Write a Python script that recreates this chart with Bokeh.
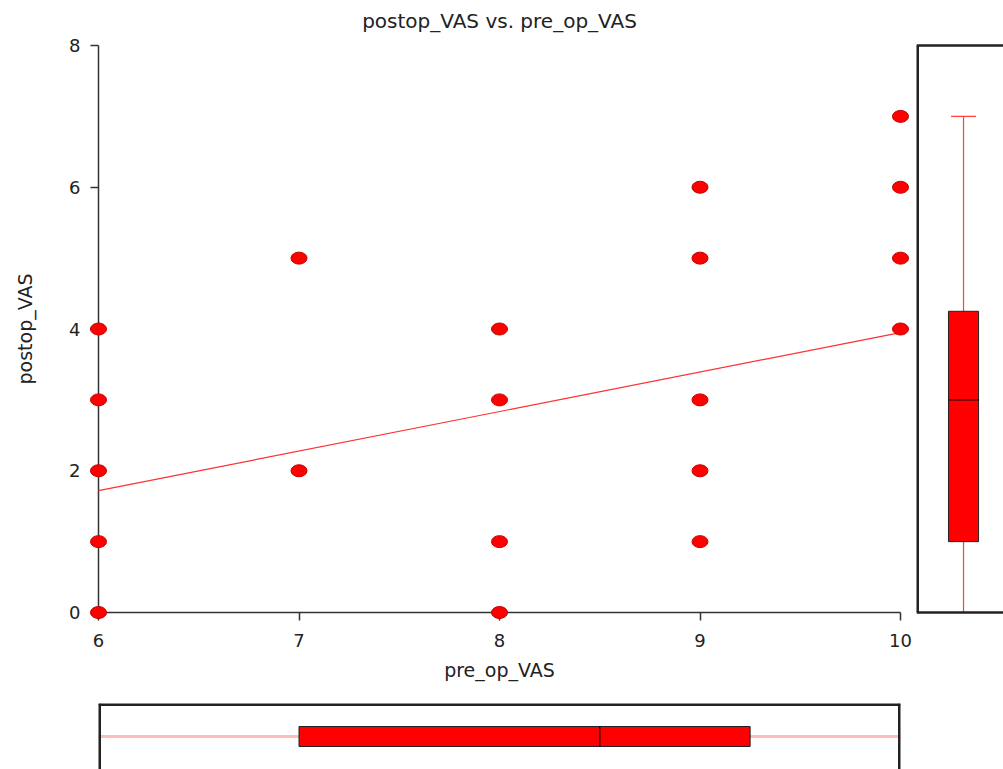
from bokeh.plotting import figure
from bokeh.models import Range1d, FixedTicker, Span, ColumnDataSource
from bokeh.layouts import column, row
from bokeh.embed import file_html
from bokeh.resources import INLINE

# ---------------- data ----------------
pre_op_VAS = [6, 6, 6, 6, 6, 7, 7, 8, 8, 8, 8, 9, 9, 9, 9, 9, 10, 10, 10, 10]
postop_VAS = [0, 1, 2, 3, 4, 2, 5, 0, 1, 3, 4, 1, 2, 3, 5, 6, 4, 5, 6, 7]
x_ticks = [6, 7, 8, 9, 10]
y_ticks = [0, 2, 4, 6, 8]
fit_x = [6, 10]
fit_y = [1.72, 3.95]
post_low, post_q1, post_med, post_q3, post_high = 0, 1, 3, 4.25, 7
pre_low, pre_q1, pre_med, pre_q3, pre_high = 6, 7, 8.5, 9.25, 10

FONT = "DejaVu Sans"
TXT = "#222222"
RED = "#ff0000"
EDGE = "#222222"

# ---------------- main scatter ----------------
xpad = 8 / 200.5
ypad = 8 / 70.875
yr = Range1d(y_ticks[0] - ypad, y_ticks[-1] + ypad)
p = figure(width=916, height=703, output_backend="svg", toolbar_location=None,
           x_range=Range1d(x_ticks[0] - xpad, x_ticks[-1] + xpad),
           y_range=yr,
           min_border_left=90, min_border_right=8, min_border_top=37, min_border_bottom=83,
           title="postop_VAS vs. pre_op_VAS")
p.outline_line_color = None
p.grid.visible = False
p.background_fill_color = "white"
p.border_fill_color = "white"
p.title.align = "center"
p.title.text_font = FONT
p.title.text_font_size = "20px"
p.title.text_font_style = "normal"
p.title.text_color = TXT
p.title.standoff = 9

for ax in (p.xaxis[0], p.yaxis[0]):
    ax.axis_line_color = None
    ax.major_tick_in = 8
    ax.major_tick_out = 0
    ax.major_tick_line_color = "#333333"
    ax.major_tick_line_width = 1.5
    ax.minor_tick_line_color = None
    ax.major_label_text_font = FONT
    ax.major_label_text_font_size = "18px"
    ax.major_label_text_color = TXT
    ax.axis_label_text_font = FONT
    ax.axis_label_text_font_size = "19px"
    ax.axis_label_text_font_style = "normal"
    ax.axis_label_text_color = TXT
p.xaxis[0].ticker = FixedTicker(ticks=x_ticks)
p.yaxis[0].ticker = FixedTicker(ticks=y_ticks)
p.xaxis[0].axis_label = "pre_op_VAS"
p.yaxis[0].axis_label = "postop_VAS"
p.xaxis[0].major_label_standoff = 13
p.yaxis[0].major_label_standoff = 10
p.xaxis[0].axis_label_standoff = 9
p.yaxis[0].axis_label_standoff = 30

# axis lines spanning the tick range
p.segment(x0=[x_ticks[0], x_ticks[0]], y0=[y_ticks[0], y_ticks[0]],
          x1=[x_ticks[0], x_ticks[-1]], y1=[y_ticks[-1], y_ticks[0]],
          line_color="#333333", line_width=1.5)

# regression line
p.line(fit_x, fit_y, line_color="#ff3030", line_width=1.2)

src = ColumnDataSource(dict(x=pre_op_VAS, y=postop_VAS))
pts = p.ellipse(x="x", y="y", width=16, height=12, width_units="screen", height_units="screen",
                source=src, fill_color=RED, line_color="#c00000", line_width=1)
pts.level = "overlay"

# ---------------- right boxplot (postop_VAS) ----------------
pr = figure(width=87, height=703, output_backend="svg", toolbar_location=None,
            x_range=Range1d(0, 0.925), y_range=yr,
            x_axis_type=None, y_axis_type=None,
            min_border_left=0, min_border_right=0, min_border_top=37, min_border_bottom=83)
pr.outline_line_color = None
pr.grid.visible = False
pr.segment(x0=[0.5, 0.5], y0=[post_low, post_q3], x1=[0.5, 0.5], y1=[post_q1, post_high],
           line_color="#ff4040", line_width=1.2)
pr.segment(x0=[0.5 - 0.133], y0=[post_high], x1=[0.5 + 0.133], y1=[post_high],
           line_color="#ff4040", line_width=1.2)
pr.vbar(x=[0.5], bottom=[post_q1], top=[post_q3], width=0.32,
        fill_color=RED, line_color=EDGE, line_width=1)
pr.segment(x0=[0.5 - 0.16], y0=[post_med], x1=[0.5 + 0.16], y1=[post_med],
           line_color="#550000", line_width=1.5)
# box frame: left side (half clipped by the frame edge) plus top and bottom
pr.segment(x0=[0], y0=[y_ticks[0]], x1=[0], y1=[y_ticks[-1]], line_color=EDGE, line_width=5)
for loc in (y_ticks[-1], y_ticks[0]):
    pr.add_layout(Span(location=loc, dimension="width", line_color=EDGE, line_width=2.5))

# ---------------- bottom boxplot (pre_op_VAS) ----------------
pb = figure(width=916, height=66, output_backend="svg", toolbar_location=None,
            x_range=Range1d(x_ticks[0], x_ticks[-1]), y_range=Range1d(0, 1),
            x_axis_type=None, y_axis_type=None,
            min_border_left=98, min_border_right=16, min_border_top=0, min_border_bottom=0)
pb.outline_line_color = None
pb.grid.visible = False
pb.segment(x0=[pre_low, pre_q3], y0=[0.5, 0.5], x1=[pre_q1, pre_high], y1=[0.5, 0.5],
           line_color="#ffbcbc", line_width=3)
pb.hbar(y=[0.5], left=[pre_q1], right=[pre_q3], height=0.303,
        fill_color=RED, line_color=EDGE, line_width=1)
pb.segment(x0=[pre_med], y0=[0.5 - 0.15], x1=[pre_med], y1=[0.5 + 0.15],
           line_color="#330000", line_width=1.5)
# box frame: left, right and top sides (half clipped by the frame edges)
pb.segment(x0=[x_ticks[0], x_ticks[-1], x_ticks[0]], y0=[0, 0, 1],
           x1=[x_ticks[0], x_ticks[-1], x_ticks[-1]], y1=[1, 1, 1],
           line_color=EDGE, line_width=5)

layout = column(row(p, pr), pb)
open("out.html", "w").write(file_html(layout, INLINE))
